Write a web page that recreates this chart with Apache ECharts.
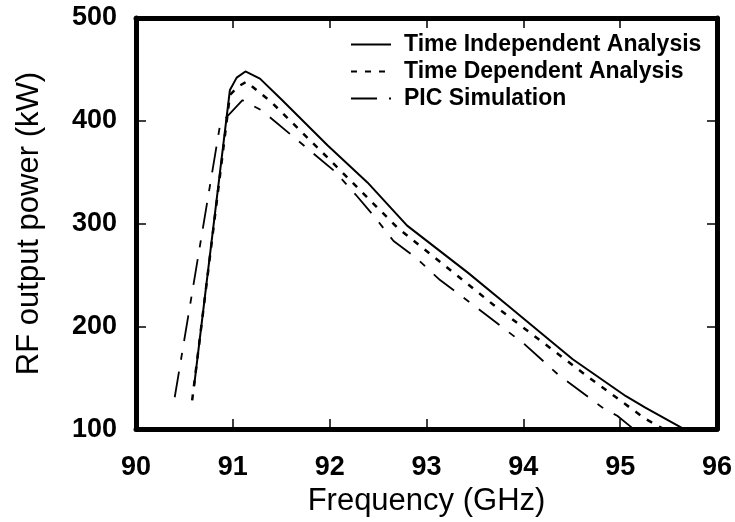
<!DOCTYPE html>
<html>
<head>
<meta charset="utf-8">
<script src="https://cdn.jsdelivr.net/npm/echarts@6/dist/echarts.min.js"></script>
<style>
  html, body { margin: 0; padding: 0; background: #fff; }
  #chart { width: 735px; height: 522px; }
</style>
</head>
<body>
<div id="chart"></div>
<script>
// values
var tiFreq  = [90.6, 90.97, 91.04, 91.13, 91.28, 91.5, 91.98, 92.39, 92.8, 93.43, 93.83, 94.51, 95.06, 95.26, 95.66];
var tiPower = [142, 430, 442, 448, 441, 421, 376, 340, 298, 252, 221, 168, 132, 121, 100];

var tdFreq  = [90.58, 90.97, 91.05, 91.14, 91.4, 91.98, 92.7, 93.19, 93.69, 94.68, 95.26, 95.45];
var tdPower = [128, 425, 433, 438, 418, 364, 296, 259, 221, 150, 110, 100];

var picFreq  = [90.4, 90.87, 91.1, 91.3, 92.05, 92.27, 92.46, 92.66, 92.9, 93.14, 93.48, 94.02, 94.36, 94.83, 94.97, 95.14];
var picPower = [131, 397, 420, 410, 351, 328, 307, 283, 266, 245, 221, 182, 153, 120, 113, 100];

var seriesNames = ['Time Independent Analysis', 'Time Dependent Analysis', 'PIC Simulation'];

function pairs(xs, ys) {
    var out = [];
    for (let i = 0; i < xs.length; i++) {
        out.push([xs[i], ys[i]]);
    }
    return out;
}

var font = "'Liberation Sans', Arial, sans-serif";
var myChart = echarts.init(document.getElementById('chart'));

var axisLine = { show: true, lineStyle: { color: '#000', width: 5 } };
var axisTick = { show: true, inside: true, length: 10, lineStyle: { color: '#000', width: 1.5 } };

var option = {
    backgroundColor: '#fff',
    animation: false,
    grid: {
        left: 136,
        right: 14,
        top: 18,
        bottom: 91
    },
    legend: {
        data: seriesNames,
        orient: 'vertical',
        left: 345,
        top: 26,
        itemWidth: 40,
        itemHeight: 14,
        itemGap: 0,
        itemStyle: { opacity: 0 },   // hide the symbol, keep the line
        textStyle: {
            fontFamily: font,
            fontSize: 23,
            fontWeight: 'bold',
            color: '#000',
            lineHeight: 27,
            padding: [0, 0, 0, 8]
        }
    },
    xAxis: [{
        type: 'value',
        min: 90,
        max: 96,
        interval: 1,
        position: 'bottom',
        name: 'Frequency (GHz)',
        nameLocation: 'middle',
        nameGap: 55,
        nameTextStyle: { fontFamily: font, fontSize: 31, color: '#000' },
        axisLine: axisLine,
        axisTick: axisTick,
        splitLine: { show: false },
        axisLabel: { fontFamily: font, fontSize: 27, fontWeight: 'bold', color: '#000', margin: 25 }
    }, {
        type: 'value',
        min: 90,
        max: 96,
        interval: 1,
        position: 'top',
        axisLine: axisLine,
        axisTick: axisTick,
        splitLine: { show: false },
        axisLabel: { show: false }
    }],
    yAxis: [{
        type: 'value',
        min: 100,
        max: 500,
        interval: 100,
        position: 'left',
        name: 'RF output power (kW)',
        nameLocation: 'middle',
        nameGap: 91,
        nameTextStyle: { fontFamily: font, fontSize: 31, color: '#000' },
        axisLine: axisLine,
        axisTick: axisTick,
        splitLine: { show: false },
        axisLabel: { fontFamily: font, fontSize: 27, fontWeight: 'bold', color: '#000', margin: 19 }
    }, {
        type: 'value',
        min: 100,
        max: 500,
        interval: 100,
        position: 'right',
        axisLine: axisLine,
        axisTick: axisTick,
        splitLine: { show: false },
        axisLabel: { show: false }
    }],
    series: [{
        name: seriesNames[0],
        type: 'line',
        data: pairs(tiFreq, tiPower),
        symbol: 'none',
        lineStyle: { color: '#000', width: 2, type: 'solid' },
        itemStyle: { color: '#000' }
    }, {
        name: seriesNames[1],
        type: 'line',
        data: pairs(tdFreq, tdPower),
        symbol: 'none',
        lineStyle: { color: '#000', width: 2.5, type: [6, 8] },
        itemStyle: { color: '#000' }
    }, {
        name: seriesNames[2],
        type: 'line',
        data: pairs(picFreq, picPower),
        symbol: 'none',
        lineStyle: { color: '#000', width: 1.8, type: [26, 12, 7, 12] },
        itemStyle: { color: '#000' }
    }]
};

myChart.setOption(option, true);
</script>
</body>
</html>
